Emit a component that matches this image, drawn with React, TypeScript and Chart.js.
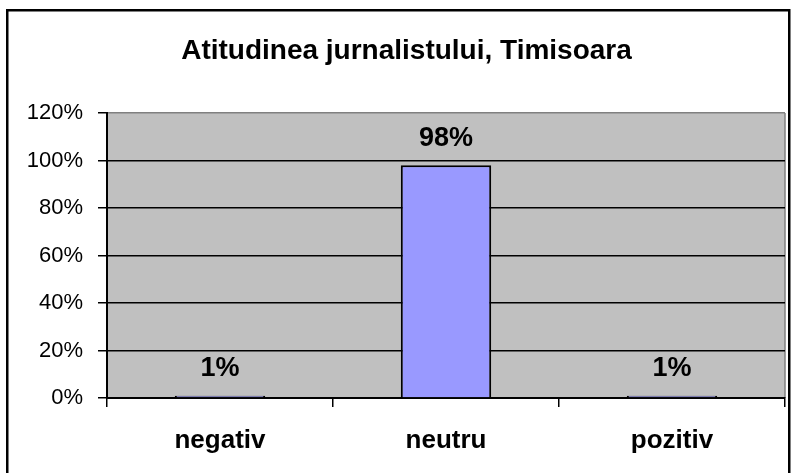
import React, { useEffect, useRef } from "react";
import { Chart, registerables } from "chart.js";

Chart.register(...registerables);

const titleText = "Atitudinea jurnalistului, Timisoara";
const categories = ["negativ", "neutru", "pozitiv"];
const values = [1, 98, 1];
const yMax = 120;
const yStep = 20;

const FONT = "'Liberation Sans', Arial, Helvetica, sans-serif";

const frame = {
  id: "frame",
  beforeDraw(chart: any) {
    const { ctx, chartArea: a, width, height } = chart;
    ctx.save();
    ctx.fillStyle = "#ffffff";
    ctx.fillRect(0, 0, width, height);
    ctx.fillStyle = "#C0C0C0";
    ctx.fillRect(a.left, a.top, a.right - a.left, a.bottom - a.top);
    ctx.strokeStyle = "#808080";
    ctx.lineWidth = 1.5;
    ctx.beginPath();
    ctx.moveTo(a.right, a.top);
    ctx.lineTo(a.right, a.bottom);
    ctx.stroke();
    ctx.restore();
  },
  afterDraw(chart: any) {
    const { ctx, height } = chart;
    ctx.save();
    ctx.strokeStyle = "#000000";
    ctx.lineWidth = 2.5;
    ctx.strokeRect(7.25, 10.25, 782, height + 20);
    ctx.restore();
  },
};

const valueLabels = {
  id: "valueLabels",
  afterDatasetsDraw(chart: any) {
    const { ctx } = chart;
    const meta = chart.getDatasetMeta(0);
    ctx.save();
    ctx.fillStyle = "#000000";
    ctx.font = `bold 27px ${FONT}`;
    ctx.textAlign = "center";
    ctx.textBaseline = "middle";
    meta.data.forEach((bar: any, i: number) => {
      ctx.fillText(`${values[i]}%`, bar.x, bar.y - 27);
    });
    ctx.restore();
  },
};

export default function App() {
  const ref = useRef<HTMLCanvasElement | null>(null);
  useEffect(() => {
    if (!ref.current) return;
    const chart = new Chart(ref.current, {
      type: "bar",
      data: {
        labels: categories,
        datasets: [
          {
            data: values,
            backgroundColor: "#9999FF",
            borderColor: "#000000",
            borderWidth: 2,
            barPercentage: 0.4,
            categoryPercentage: 1,
          },
        ],
      },
      options: {
        animation: false,
        responsive: false,
        maintainAspectRatio: false,
        devicePixelRatio: 1,
        layout: { padding: { left: 28, right: 11, top: 0, bottom: 0 } },
        plugins: {
          legend: { display: false },
          tooltip: { enabled: false },
          title: {
            display: true,
            text: titleText,
            color: "#000000",
            font: { family: FONT, size: 28, weight: "bold" },
            padding: { top: 34, bottom: 45.4 },
          },
        },
        scales: {
          x: {
            offset: true,
            grid: {
              offset: true,
              drawOnChartArea: false,
              tickLength: 9,
              color: "#000000",
              lineWidth: 1.5,
            },
            border: { display: true, color: "#000000", width: 2 },
            ticks: {
              color: "#000000",
              padding: 18,
              font: { family: FONT, size: 26, weight: "bold" },
            },
            afterFit(scale: any) {
              scale.height = 75;
            },
          },
          y: {
            min: 0,
            max: yMax,
            grid: {
              color: (c: any) => (c.tick && c.tick.value === yMax ? "#808080" : "#000000"),
              tickColor: "#000000",
              tickLength: 9,
              lineWidth: 1.5,
            },
            border: { display: true, color: "#000000", width: 2 },
            ticks: {
              stepSize: yStep,
              color: "#000000",
              padding: 15,
              font: { family: FONT, size: 22 },
              callback: (v: any) => `${v}%`,
            },
            afterFit(scale: any) {
              scale.width = 79;
            },
          },
        },
      },
      plugins: [frame, valueLabels],
    });
    return () => chart.destroy();
  }, []);
  return (
    <div style={{ position: "absolute", left: 0, top: 0, width: 796, height: 473 }}>
      <canvas ref={ref} width={796} height={473} style={{ width: 796, height: 473 }} />
    </div>
  );
}
